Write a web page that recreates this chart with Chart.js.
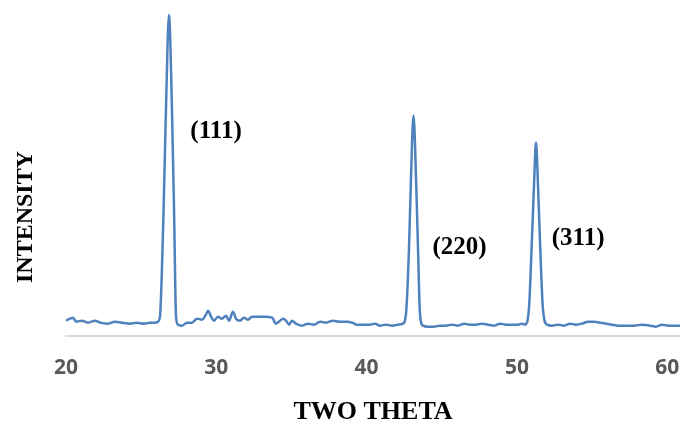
<!DOCTYPE html>
<html>
<head>
<meta charset="utf-8">
<script src="https://cdn.jsdelivr.net/npm/chart.js@4.4.0/dist/chart.umd.min.js"></script>
<style>
  html, body { margin: 0; padding: 0; background: #fff; }
  #wrap { width: 680px; height: 424px; }
</style>
</head>
<body>
<div id="wrap"><canvas id="xrd"></canvas></div>
<script>
// XRD pattern, 2 theta vs intensity (arbitrary units)
var twoTheta = [
  20.0, 20.27, 20.47, 20.67, 21.06, 21.46, 21.93, 22.26, 22.79, 23.26, 23.73, 24.26, 24.72, 25.19, 25.59, 25.92,
  26.12, 26.25, 26.49, 26.65, 26.85, 27.05, 27.19, 27.32, 27.45,
  27.72, 28.05, 28.38, 28.72, 29.05, 29.31, 29.45, 29.65, 29.85, 30.11, 30.38, 30.65, 30.85, 31.11, 31.31, 31.58,
  31.84, 32.11, 32.38, 32.77, 33.24, 33.71, 33.97, 34.24, 34.44, 34.64, 34.84, 35.04, 35.30, 35.70, 36.10, 36.50,
  36.90, 37.30, 37.76, 38.23, 38.70, 39.03, 39.36, 39.83, 40.23, 40.56, 40.89, 41.29, 41.69, 42.09,
  42.42, 42.62, 42.82, 42.95, 43.12, 43.29, 43.42, 43.55, 43.75,
  44.09, 44.48, 44.88, 45.28, 45.68, 46.08, 46.48, 46.88, 47.28, 47.68, 48.08, 48.48, 48.88, 49.27, 49.67, 50.07, 50.34,
  50.54, 50.80, 51.00, 51.14, 51.27, 51.40, 51.53, 51.73, 52.00,
  52.34, 52.73, 53.13, 53.53, 53.93, 54.33, 54.73, 55.13, 55.53, 55.93, 56.33, 56.73, 57.26, 57.79, 58.32, 58.86,
  59.25, 59.65, 60.05, 60.45, 60.85
];
var intensity = [
  15, 17, 18, 14, 15, 13, 15, 13, 12, 14, 13, 12, 13, 12, 13, 13,
  14, 19, 125, 227, 322, 227, 125, 19, 11,
  10, 13, 13, 17, 16, 21, 25, 19, 15, 19, 17, 20, 15, 24, 17, 15,
  18, 16, 19, 19, 19, 18, 12, 15, 17, 15, 11, 15, 12, 10, 12, 11,
  14, 13, 15, 14, 14, 13, 11, 11, 11, 12, 10, 11, 10, 11,
  12, 22, 87, 157, 221, 157, 87, 22, 10,
  9, 9, 10, 10, 11, 10, 12, 11, 11, 12, 11, 10, 12, 11, 11, 11, 12,
  11, 27, 97, 152, 194, 152, 97, 27, 11,
  10, 11, 10, 12, 11, 12, 14, 14, 13, 12, 11, 10, 10, 10, 11, 10,
  9, 11, 10, 10, 10
];
var xTicks = [20, 30, 40, 50, 60];
var peakLabels = ['(111)', '(220)', '(311)'];
var peakLabelAt = [[29.98, 205], [46.18, 88], [54.07, 97]];

var points = twoTheta.map(function (t, i) { return { x: t, y: intensity[i] }; });

var textPlugin = {
  id: 'textPlugin',
  afterDraw: function (chart) {
    var c = chart.ctx;
    var xs = chart.scales.x, ys = chart.scales.y;
    c.save();
    c.fillStyle = '#000';
    c.textAlign = 'center';
    c.textBaseline = 'middle';
    c.font = 'bold 25px "Liberation Serif", "Times New Roman", serif';
    peakLabels.forEach(function (lbl, i) {
      c.fillText(lbl, xs.getPixelForValue(peakLabelAt[i][0]), ys.getPixelForValue(peakLabelAt[i][1]));
    });
    // y axis title
    c.font = 'bold 24px "Liberation Serif", "Times New Roman", serif';
    c.translate(26, 217);
    c.rotate(-Math.PI / 2);
    c.fillText('INTENSITY', 0, 0);
    c.restore();
  }
};

var chart = new Chart('xrd', {
  type: 'line',
  data: {
    datasets: [{
      data: points,
      borderColor: '#4f81bd',
      borderWidth: 2.5,
      pointRadius: 0,
      fill: false,
      cubicInterpolationMode: 'monotone'
    }]
  },
  options: {
    responsive: true,
    maintainAspectRatio: false,
    animation: false,
    layout: { padding: { left: 66, right: 0, top: 7, bottom: 0 } },
    plugins: { legend: { display: false }, tooltip: { enabled: false } },
    scales: {
      x: {
        type: 'linear',
        min: 20,
        max: 60.85,
        afterBuildTicks: function (axis) {
          axis.ticks = xTicks.map(function (v) { return { value: v }; });
        },
        afterFit: function (axis) {
          axis.paddingLeft = 0;
          axis.paddingRight = 0;
        },
        grid: { display: false, drawTicks: false },
        border: { display: true, color: '#d9d9d9', width: 2 },
        ticks: {
          padding: 22,
          color: '#595959',
          font: { family: '"Open Sans", "DejaVu Sans", sans-serif', size: 21, weight: 'bold', lineHeight: 1 }
        },
        title: {
          display: true,
          text: 'TWO THETA',
          color: '#000',
          padding: { top: 0, bottom: 0 },
          font: { family: '"Liberation Serif", "Times New Roman", serif', size: 26, weight: 'bold', lineHeight: 0.9 }
        }
      },
      y: {
        display: false,
        min: 0,
        max: 330
      }
    }
  },
  plugins: [textPlugin]
});
</script>
</body>
</html>
